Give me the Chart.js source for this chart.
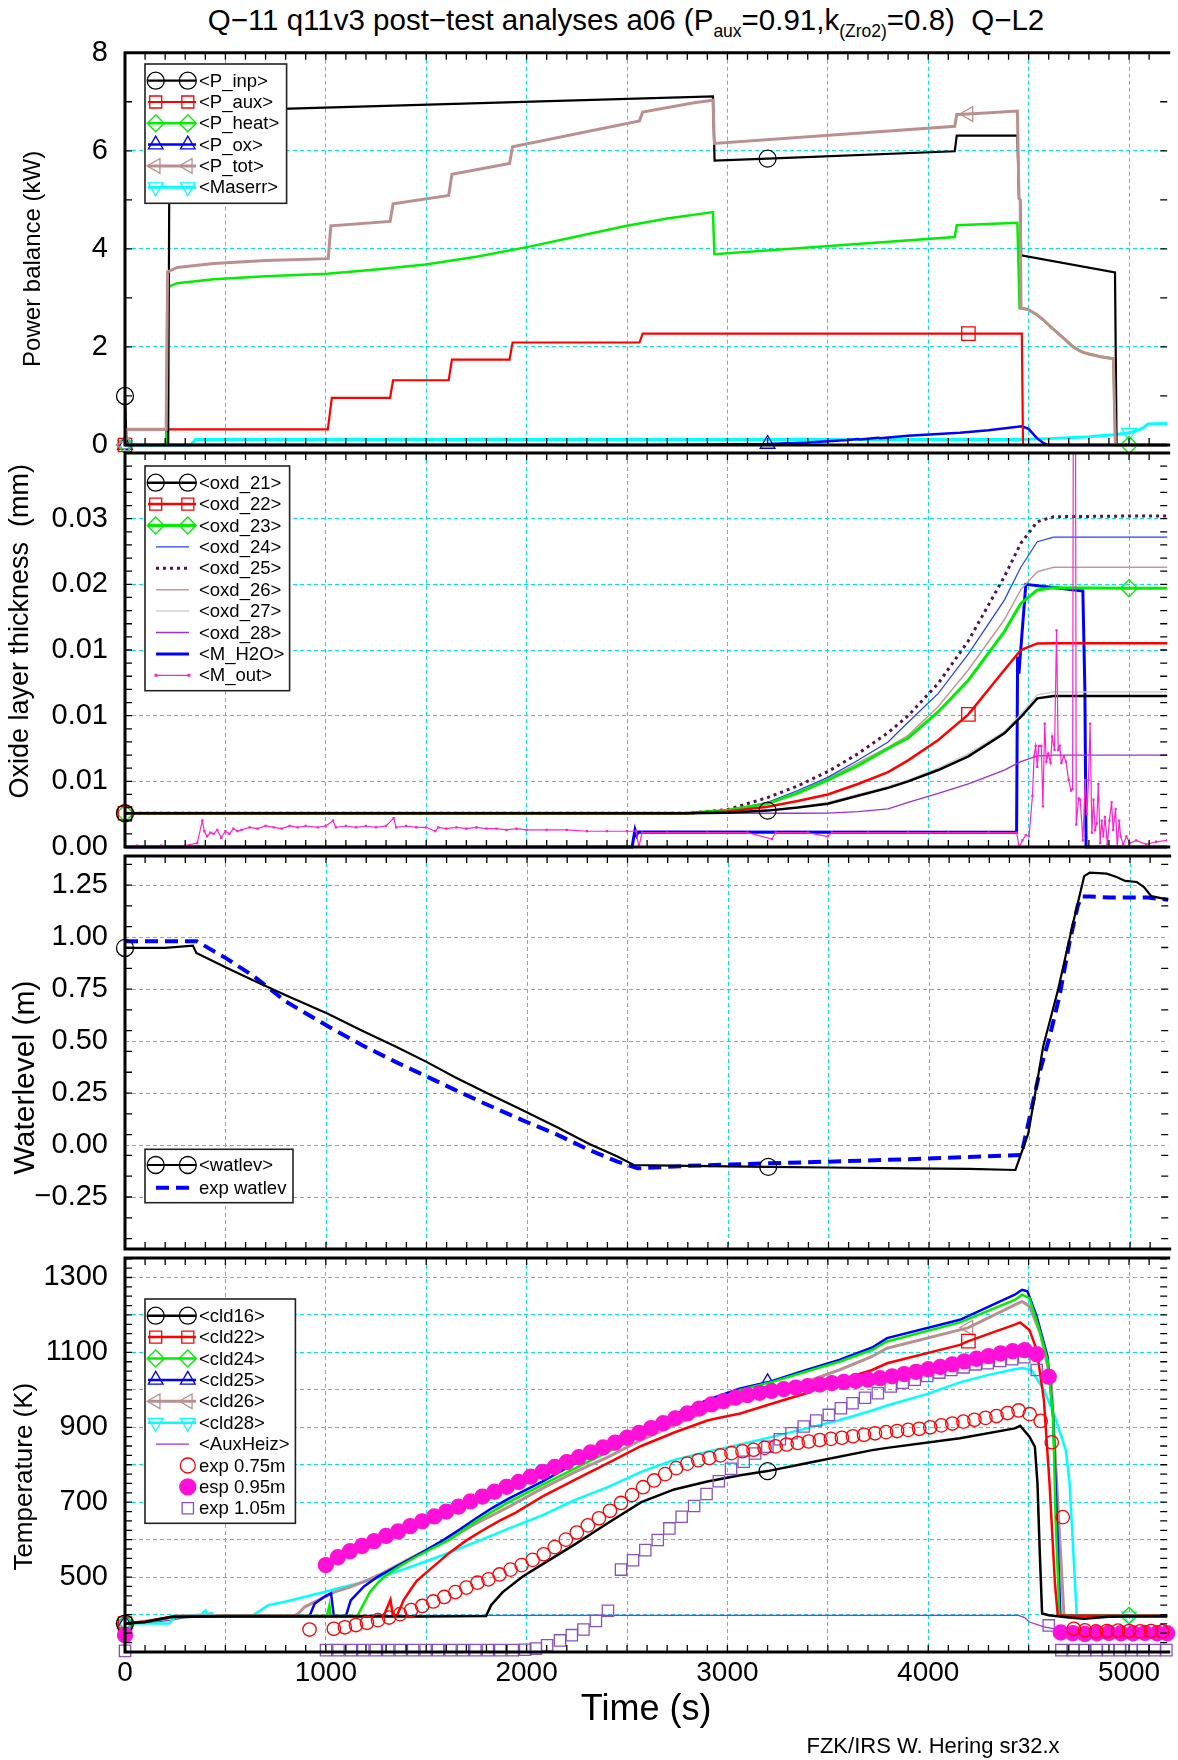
<!DOCTYPE html>
<html><head><meta charset="utf-8">
<script src="https://cdn.jsdelivr.net/npm/chart.js@4.4.1/dist/chart.umd.min.js"></script>
<style>
html,body{margin:0;padding:0;background:#fff;}
#wrap{position:relative;width:1178px;height:1760px;overflow:hidden;background:#fff;font-family:"Liberation Sans",Arial,Helvetica,sans-serif;color:#000;}
canvas{position:absolute;left:0;}
#title{position:absolute;top:3px;left:626px;transform:translateX(-50%);white-space:nowrap;font-size:29.5px;line-height:34px;}
#title sub{font-size:17.5px;line-height:0;vertical-align:-7px;}
#footer{position:absolute;top:1733px;left:933px;transform:translateX(-50%);white-space:nowrap;font-size:22px;line-height:26px;}
</style></head><body>
<div id="wrap">
<div id="title">Q−11 q11v3 post−test analyses a06 (P<sub>aux</sub>=0.91,k<sub>(Zro2)</sub>=0.8)&nbsp; Q−L2</div>
<canvas id="c1" width="1178" height="450" style="top:22px"></canvas>
<canvas id="c2" width="1178" height="434" style="top:433px"></canvas>
<canvas id="c3" width="1178" height="433" style="top:836px"></canvas>
<canvas id="c4" width="1178" height="522" style="top:1238px"></canvas>
<div id="footer">FZK/IRS W. Hering sr32.x</div>
</div>
<script>
// ---------------- DATA ----------------
// x axis
const X_TICKS = [0,500,1000,1500,2000,2500,3000,3500,4000,4500,5000];
const X_TICK_LABELS = ['0','','1000','','2000','','3000','','4000','','5000'];

// Panel 1: power balance (kW)  [time s, value]
const P_INP = [[0,1.0],[8,0],[215,0],[222,6.79],[2928,7.11],[2936,5.80],[3200,5.84],[4132,5.99],[4142,6.31],[4444,6.31],[4452,5.03],[4458,5.00],[4463,3.87],[4930,3.52],[4938,0],[5190,0]];
const P_AUX = [[0,0],[5,0.32],[1010,0.32],[1030,0.96],[1320,0.96],[1335,1.32],[1612,1.32],[1628,1.74],[1915,1.74],[1930,2.09],[2562,2.09],[2578,2.27],[4200,2.27],[4466,2.27],[4472,0],[5190,0]];
const P_HEAT = [[0,0],[205,0],[212,3.22],[260,3.30],[441,3.38],[700,3.44],[1007,3.49],[1250,3.58],[1497,3.68],[1750,3.84],[2008,4.04],[2250,4.25],[2499,4.47],[2700,4.62],[2928,4.75],[2935,3.89],[4132,4.24],[4142,4.48],[4444,4.53],[4455,2.79],[4494,2.77],[4540,2.66],[4576,2.54],[4610,2.41],[4648,2.27],[4690,2.12],[4722,2.00],[4760,1.91],[4794,1.86],[4860,1.80],[4922,1.76],[4932,0],[5000,0],[5190,0]];
const P_OX = [[0,0],[2600,0],[2900,0.01],[3200,0.02],[3400,0.05],[3600,0.10],[3650,0.12],[3660,0.11],[3750,0.15],[3760,0.14],[3900,0.19],[4158,0.25],[4300,0.30],[4466,0.38],[4500,0.33],[4541,0.14],[4570,0.05],[4595,0],[5190,0]];
const P_TOT = [[0,0],[5,0.32],[205,0.32],[212,3.53],[260,3.62],[441,3.70],[700,3.76],[1012,3.80],[1025,4.47],[1320,4.56],[1335,4.92],[1612,5.09],[1628,5.52],[1915,5.74],[1930,6.08],[2562,6.61],[2578,6.79],[2834,6.98],[2928,7.03],[2935,6.15],[4132,6.50],[4142,6.74],[4200,6.75],[4444,6.81],[4452,5.03],[4458,5.00],[4462,2.79],[4494,2.77],[4540,2.66],[4576,2.54],[4610,2.41],[4648,2.27],[4690,2.12],[4722,2.00],[4760,1.91],[4794,1.86],[4860,1.80],[4922,1.76],[4932,0],[5190,0]];
const MASERR = [[0,0],[330,0],[350,0.11],[4440,0.11],[4600,0.13],[4700,0.15],[4800,0.17],[4922,0.21],[4980,0.24],[5000,0.25],[5030,0.28],[5070,0.35],[5094,0.43],[5190,0.44]];

// Panel 2: oxide layer thickness (mm)
const T_OXD  = [0,2800,3000,3200,3350,3500,3650,3800,3900,4050,4200,4379,4461,4543,4625,5000,5190];
const OXD_21 = [.00257,.00257,.0026,.00277,.0030,.0033,.0039,.0045,.0050,.00586,.0069,.00866,.0099,.01132,.0115,.0115,.0115];
const OXD_22 = [.00257,.00257,.0027,.00307,.0035,.0040,.0048,.0057,.0066,.00815,.0101,.01348,.0150,.0155,.01551,.01551,.01551];
const OXD_23 = [.00257,.00257,.0028,.0033,.0041,.0051,.0062,.0075,.0083,.0103,.0127,.0164,.01855,.01957,.01974,.0197,.0197];
const OXD_24 = [.00257,.00257,.0028,.0034,.0043,.0053,.0066,.0080,.0095,.0117,.0147,.0188,.0213,.02325,.0236,.0236,.0236];
const OXD_25 = [.00257,.00257,.00285,.00376,.00465,.00574,.0071,.0087,.0100,.01246,.0157,.02058,.02312,.02477,.02515,.0252,.0252];
const OXD_26 = [.00257,.00257,.0028,.0033,.0042,.0052,.0064,.0076,.0085,.0107,.0135,.0173,.0196,.02096,.0213,.0213,.0213];
const OXD_27 = [.00257,.00257,.0026,.0028,.0030,.0034,.0040,.0046,.0051,.0060,.0071,.0088,.0101,.0116,.0118,.0118,.0118];
const OXD_28 = [.00257,.00257,.00257,.00257,.00257,.00258,.0027,.0029,.0034,.00409,.0048,.00586,.0065,.00693,.0070,.0070,.0070];
const M_H2O = [[0,0],[2525,0],[2540,0.0013],[2548,0.0009],[2555,0.00115],[4440,0.00112],[4445,0.0145],[4452,0.0132],[4458,0.0145],[4486,0.0200],[4770,0.0195],[4780,0.0120],[4786,0],[5190,0]];
const M_OUT = [[0,0],[60,0.0001],[120,0],[180,0.0001],[240,0],[300,0.0001],[360,0.0003],[385,0.0020],[395,0.0012],[409,0.0008],[425,0.0011],[441,0.0010],[460,0.0013],[479,0.0007],[500,0.0012],[520,0.0010],[540,0.0014],[560,0.0012],[580,0.0013],[620,0.0015],[660,0.0014],[700,0.0016],[740,0.0015],[780,0.0014],[820,0.0016],[860,0.0015],[900,0.0016],[960,0.0015],[1000,0.0016],[1036,0.0020],[1050,0.0015],[1100,0.0016],[1150,0.0015],[1200,0.0016],[1250,0.0015],[1300,0.0016],[1338,0.0022],[1350,0.0015],[1400,0.0016],[1450,0.0015],[1500,0.0015],[1545,0.0012],[1560,0.0015],[1600,0.0014],[1650,0.0015],[1700,0.0014],[1750,0.0015],[1800,0.0014],[1850,0.0014],[1900,0.0013],[1950,0.0014],[2000,0.0013],[2100,0.0013],[2200,0.0013],[2300,0.0012],[2400,0.0012],[2500,0.0012],[2545,0.0012],[2559,0],[2575,0.0011],[2700,0.0011],[2900,0.0011],[3100,0.0011],[3222,0.0006],[3240,0.0011],[3400,0.0011],[3499,0.0008],[3520,0.0011],[3700,0.0011],[3900,0.0011],[4100,0.0011],[4300,0.0011],[4440,0.0011],[4453,0],[4469,0.0005],[4486,0.0009],[4502,0.0008],[4519,0.0039],[4527,0.0069],[4535,0.0077],[4543,0.0061],[4551,0.0077],[4563,0.0077],[4571,0.0031],[4580,0.0094],[4588,0.0065],[4598,0.0071],[4609,0.0064],[4617,0.0084],[4629,0.0074],[4639,0.0165],[4647,0.0074],[4655,0.0077],[4663,0.0064],[4675,0.0069],[4686,0.0065],[4699,0.0051],[4711,0.0043],[4719,0.0044],[4724,0.045],[4732,0.045],[4737,0.0017],[4749,0.0037],[4757,0.0036],[4770,0.0005],[4782,0.0051],[4790,0.0025],[4798,0.0051],[4806,0.0094],[4815,0.0011],[4823,0.0036],[4831,0.0013],[4839,0.0018],[4847,0.0048],[4856,0.0003],[4864,0.0020],[4872,0.0008],[4880,0.0023],[4892,0.0002],[4902,0.0020],[4913,0.0034],[4921,0.0013],[4933,0.0029],[4941,0],[4951,0.0020],[4958,0.0008],[4971,0.0002],[4987,0.0008],[5004,0.0003],[5036,0.0005],[5086,0.0002],[5135,0.0004],[5190,0.0005]];

// Panel 3: water level (m)
const WATLEV = [[0,0.948],[200,0.948],[338,0.959],[355,0.924],[500,0.855],[642,0.79],[800,0.72],[1012,0.63],[1180,0.55],[1346,0.474],[1500,0.40],[1642,0.326],[1800,0.25],[1976,0.169],[2150,0.085],[2310,0.005],[2450,-0.055],[2531,-0.096],[2800,-0.100],[3200,-0.105],[3495,-0.108],[3900,-0.112],[4200,-0.115],[4430,-0.12],[4494,0.056],[4568,0.474],[4642,0.747],[4717,1.069],[4772,1.293],[4800,1.31],[4884,1.305],[4930,1.29],[4976,1.27],[5034,1.265],[5070,1.24],[5106,1.197],[5190,1.18]];
const EXP_WATLEV = [[0,0.98],[357,0.98],[500,0.90],[642,0.811],[800,0.69],[1012,0.57],[1180,0.48],[1346,0.40],[1500,0.33],[1642,0.265],[1800,0.195],[1976,0.12],[2150,0.05],[2310,-0.024],[2450,-0.08],[2550,-0.112],[2800,-0.10],[3199,-0.088],[3495,-0.08],[3900,-0.068],[4200,-0.058],[4459,-0.048],[4500,0.13],[4550,0.35],[4600,0.52],[4650,0.72],[4700,0.98],[4740,1.15],[4760,1.195],[4800,1.195],[4900,1.19],[5000,1.19],[5088,1.19],[5190,1.18]];

// Panel 4: temperatures (K)
const CLD16 = [[0,376],[100,380],[234,394],[500,395],[1000,395],[1500,395],[1798,396],[1823,425],[1881,460],[1979,501],[2078,534],[2242,588],[2407,645],[2571,700],[2735,734],[2900,755],[3064,772],[3200,783],[3393,804],[3721,839],[3795,845],[4158,871],[4431,897],[4458,904],[4504,875],[4531,848],[4544,750],[4555,572],[4567,403],[4600,398],[4700,392],[4776,389],[4900,394],[5000,395],[5190,395]];
const CLD22 = [[0,376],[100,382],[234,394],[500,396],[1000,396],[1289,397],[1322,440],[1334,398],[1355,398],[1387,438],[1420,465],[1453,490],[1535,528],[1618,566],[1700,598],[1782,625],[1864,650],[1946,672],[2078,715],[2242,760],[2407,805],[2571,850],[2735,886],[2900,918],[2949,924],[3064,937],[3228,964],[3393,991],[3557,1026],[3721,1053],[3795,1071],[4158,1120],[4200,1130],[4431,1174],[4458,1180],[4504,1160],[4540,1107],[4576,973],[4604,750],[4631,483],[4645,398],[4700,397],[5190,397]];
const CLD24 = [[0,376],[100,380],[234,393],[500,396],[1005,396],[1018,425],[1024,396],[1157,396],[1180,420],[1220,460],[1260,485],[1300,505],[1371,530],[1453,555],[1535,578],[1618,600],[1749,650],[1913,701],[2078,746],[2242,790],[2407,835],[2571,879],[2735,924],[2900,964],[3064,1000],[3228,1022],[3393,1049],[3557,1075],[3721,1107],[3795,1129],[4158,1180],[4431,1240],[4467,1254],[4504,1245],[4549,1169],[4594,1080],[4622,928],[4634,661],[4653,398],[4700,397],[5000,397],[5190,397]];
const CLD25 = [[0,376],[100,380],[234,393],[500,396],[919,396],[944,429],[985,445],[1026,457],[1040,396],[1100,396],[1124,438],[1190,475],[1256,500],[1340,525],[1420,548],[1500,572],[1585,599],[1670,628],[1749,657],[1830,685],[1913,710],[2078,755],[2242,804],[2407,853],[2571,897],[2735,933],[2900,973],[3064,1004],[3200,1020],[3393,1053],[3557,1080],[3721,1113],[3795,1138],[4158,1187],[4431,1254],[4467,1267],[4494,1263],[4540,1196],[4594,1089],[4622,928],[4640,661],[4658,398],[4700,397],[5190,397]];
const CLD26 = [[0,376],[100,380],[200,390],[253,397],[500,397],[845,397],[862,402],[894,420],[960,438],[1042,460],[1124,474],[1207,492],[1289,512],[1420,550],[1500,572],[1585,594],[1749,643],[1913,688],[2078,737],[2242,781],[2407,821],[2571,866],[2735,906],[2900,944],[3064,969],[3228,995],[3393,1022],[3557,1053],[3721,1089],[3795,1111],[4158,1160],[4200,1166],[4431,1227],[4467,1236],[4504,1223],[4558,1151],[4613,1018],[4640,750],[4676,398],[4700,397],[5190,397]];
const CLD28 = [[0,376],[220,376],[253,394],[380,400],[401,411],[410,398],[425,404],[434,403],[445,396],[631,396],[714,425],[796,434],[894,447],[993,460],[1092,474],[1190,487],[1289,503],[1371,518],[1453,533],[1585,559],[1749,594],[1913,630],[2078,665],[2242,706],[2407,741],[2571,781],[2735,813],[2900,835],[3064,854],[3228,875],[3393,897],[3557,919],[3721,945],[3795,958],[4000,990],[4158,1020],[4300,1040],[4431,1055],[4467,1058],[4513,1053],[4576,1000],[4631,928],[4685,839],[4704,750],[4722,572],[4740,394],[4800,396],[5000,396],[5190,396]];
const AUXHEIZ = [[0,376],[150,380],[230,385],[300,392],[467,396],[1000,397],[2000,398],[3000,398],[4000,398],[4450,398],[4480,392],[4504,380],[4576,367],[4631,362],[4700,358],[5190,356]];
const EXP_075 = [[919,360],[1040,362],[1095,366],[1150,372],[1205,378],[1260,385],[1315,392],[1370,401],[1425,412],[1480,423],[1535,435],[1590,447],[1645,460],[1700,472],[1755,485],[1810,494],[1865,507],[1920,520],[1975,532],[2030,546],[2085,561],[2140,580],[2195,600],[2250,619],[2305,638],[2360,657],[2415,677],[2470,698],[2525,719],[2580,740],[2635,758],[2690,775],[2745,791],[2800,803],[2855,812],[2910,818],[2965,825],[3020,831],[3075,836],[3130,840],[3185,845],[3240,849],[3295,854],[3350,858],[3405,862],[3460,866],[3515,869],[3570,872],[3625,876],[3680,880],[3735,884],[3790,887],[3845,890],[3900,893],[3955,896],[4010,900],[4065,905],[4120,910],[4175,915],[4230,920],[4285,925],[4340,930],[4395,938],[4450,945],[4505,935],[4560,917],[4615,860],[4670,660],[4725,362],[4780,358],[4835,355],[4890,356],[4945,357],[5000,356],[5055,355],[5110,356],[5165,355]];
const ESP_095 = [[0,345],[1000,532],[1060,553],[1120,569],[1180,583],[1240,596],[1300,610],[1360,622],[1420,636],[1480,649],[1540,662],[1600,675],[1660,688],[1720,702],[1780,715],[1840,728],[1900,741],[1960,754],[2020,768],[2080,781],[2140,794],[2200,807],[2260,820],[2320,833],[2380,846],[2440,859],[2500,872],[2560,885],[2620,898],[2680,911],[2740,924],[2800,937],[2860,950],[2920,961],[2980,970],[3040,979],[3100,986],[3160,992],[3220,997],[3280,1002],[3340,1006],[3400,1010],[3460,1014],[3520,1018],[3580,1021],[3640,1024],[3700,1027],[3760,1031],[3820,1036],[3880,1042],[3940,1048],[4000,1055],[4060,1061],[4120,1068],[4180,1076],[4240,1083],[4300,1090],[4360,1097],[4420,1103],[4480,1106],[4540,1095],[4600,1035],[4660,352],[4720,350],[4780,348],[4840,350],[4900,351],[4960,350],[5020,350],[5080,351],[5140,350],[5190,350]];
const EXP_105 = [[0,303],[1001,305],[1063,305],[1125,305],[1187,305],[1249,305],[1311,305],[1373,305],[1435,305],[1497,305],[1559,305],[1621,305],[1683,305],[1745,305],[1807,305],[1869,305],[1931,305],[1993,306],[2046,309],[2102,318],[2166,331],[2225,345],[2283,360],[2345,383],[2405,410],[2470,520],[2530,545],[2591,572],[2653,599],[2711,630],[2772,661],[2834,690],[2896,722],[2957,756],[3018,789],[3081,808],[3138,830],[3199,848],[3261,868],[3319,884],[3380,902],[3442,918],[3505,933],[3565,951],[3623,964],[3685,979],[3749,991],[3813,1009],[3873,1019],[3933,1027],[3995,1037],[4055,1046],[4115,1053],[4176,1060],[4236,1068],[4296,1071],[4358,1077],[4418,1082],[4478,1087],[4540,1053],[4600,371],[4663,305],[4722,305],[4780,305],[4838,305],[4896,305],[4954,305],[5012,305],[5070,305],[5128,305],[5186,305]];

// y axis ticks / labels
const Y1_TICKS = [0,2,4,6,8];                  const Y1_LABELS = ['0','2','4','6','8'];
const Y2_TICKS = [0,0.005,0.01,0.015,0.02,0.025]; const Y2_LABELS = ['0.00','0.01','0.01','0.01','0.02','0.03'];
const Y3_TICKS = [-0.25,0,0.25,0.5,0.75,1,1.25];  const Y3_LABELS = ['\u22120.25','0.00','0.25','0.50','0.75','1.00','1.25'];
const Y4_TICKS = [400,500,600,700,800,900,1000,1100,1200,1300];
const Y4_LABELS = ['','500','','700','','900','','1100','','1300'];

// ---------------- RENDERING ----------------
const FONT = '"Liberation Sans", Arial, Helvetica, sans-serif';
Chart.defaults.font.family = FONT;
Chart.defaults.color = '#000';
const GRID = '#00e3ec';
const X_MAX = 5190;

const pts = a => a.map(p => ({ x: p[0], y: p[1] }));
const zip = (t, v) => t.map((x, i) => ({ x: x, y: v[i] }));

function sim(label, data, color, width, style, rot, marks, extra) {
  const r = style === 'rect' ? 9.5 : 8.5;
  return Object.assign({
    label: label, data: data, showLine: true, borderColor: color, borderWidth: width,
    backgroundColor: 'rgba(0,0,0,0)', pointStyle: style || 'circle', pointRotation: rot || 0,
    pointBorderColor: color, pointBackgroundColor: 'rgba(0,0,0,0)', pointBorderWidth: 1.3,
    pointRadius: c => (c.raw && marks && marks.includes(c.raw.x)) ? r : 0,
    pointHoverRadius: 0, pointHitRadius: 0, tension: 0, clip: false, order: 2
  }, extra || {});
}
function expPts(label, data, color, style, r, fill) {
  return {
    label: label, data: data, showLine: false, borderColor: color, backgroundColor: fill,
    pointStyle: style, pointRadius: r, pointBorderColor: color, pointBackgroundColor: fill,
    pointBorderWidth: 1.3, pointHoverRadius: 0, pointHitRadius: 0, clip: false, order: 0
  };
}

function mark(ctx, style, x, y, r, rot) {
  ctx.beginPath();
  if (style === 'circle') ctx.arc(x, y, r, 0, Math.PI * 2);
  else if (style === 'rect') { const s = r * Math.SQRT1_2; ctx.rect(x - s, y - s, 2 * s, 2 * s); }
  else if (style === 'rectRot') { ctx.moveTo(x, y - r); ctx.lineTo(x + r, y); ctx.lineTo(x, y + r); ctx.lineTo(x - r, y); ctx.closePath(); }
  else if (style === 'triangle') {
    let a = (rot || 0) * Math.PI / 180;
    for (let k = 0; k < 3; k++) { const px = x + Math.sin(a) * r, py = y - Math.cos(a) * r; if (k) ctx.lineTo(px, py); else ctx.moveTo(px, py); a += 2 * Math.PI / 3; }
    ctx.closePath();
  }
}
function drawMk(ctx, ds, x, y, r) {
  ctx.save(); ctx.setLineDash([]);
  ctx.lineWidth = ds.pointBorderWidth || 1.3; ctx.strokeStyle = ds.pointBorderColor; ctx.fillStyle = ds.pointBackgroundColor;
  mark(ctx, ds.pointStyle, x, y, r, ds.pointRotation); ctx.fill(); ctx.stroke(); ctx.restore();
}

const framePlugin = {
  id: 'frame',
  afterDraw(chart, args, o) {
    const { ctx, chartArea: a, scales } = chart;
    const xs = scales.x, ys = scales.y;
    ctx.save();
    ctx.strokeStyle = '#000'; ctx.lineWidth = 1.3; ctx.setLineDash([]);
    ctx.beginPath();
    for (let k = 0; k * 100 <= X_MAX; k++) {
      const px = xs.getPixelForValue(k * 100);
      ctx.moveTo(px, a.bottom); ctx.lineTo(px, a.bottom - 7);
      ctx.moveTo(px, a.top); ctx.lineTo(px, a.top + 7);
    }
    for (let k = 0; ; k++) {
      const v = o.minorStart + k * o.minorStep;
      if (v > ys.max + 1e-9) break;
      const py = ys.getPixelForValue(v);
      ctx.moveTo(a.left, py); ctx.lineTo(a.left + 7, py);
      ctx.moveTo(a.right, py); ctx.lineTo(a.right - 7, py);
    }
    ctx.stroke();
    ctx.lineWidth = 3;
    ctx.beginPath();
    ctx.moveTo(a.right + 3, a.top); ctx.lineTo(a.left, a.top); ctx.lineTo(a.left, a.bottom); ctx.lineTo(a.right + 3, a.bottom);
    ctx.stroke();
    // legend
    const L = o.legend;
    const bx = a.left + L.dx, by = a.top + L.dy;
    ctx.fillStyle = '#fff'; ctx.fillRect(bx, by, L.w, L.h);
    ctx.lineWidth = 1.6; ctx.strokeStyle = '#222'; ctx.strokeRect(bx, by, L.w, L.h);
    ctx.font = '18.5px ' + FONT; ctx.textBaseline = 'middle'; ctx.textAlign = 'left';
    L.items.forEach((it, k) => {
      const ds = chart.data.datasets[it[0]];
      const kind = it[1];
      const y = by + L.row0 + k * L.rowH;
      if (kind !== 'mk') {
        ctx.save(); ctx.strokeStyle = ds.borderColor; ctx.lineWidth = Math.max(ds.borderWidth, 1.2); ctx.setLineDash(ds.borderDash || []);
        ctx.beginPath();
        if (kind === 'lm') { ctx.moveTo(bx + 3, y); ctx.lineTo(bx + 51, y); } else { ctx.moveTo(bx + 11, y); ctx.lineTo(bx + 44, y); }
        ctx.stroke(); ctx.restore();
      }
      if (kind === 'lm') { drawMk(ctx, ds, bx + 10.7, y, 8.5); drawMk(ctx, ds, bx + 42.8, y, 8.5); }
      if (kind === 'dots') { ctx.fillStyle = ds.borderColor; ctx.fillRect(bx + 9.5, y - 1.5, 3, 3); ctx.fillRect(bx + 42.5, y - 1.5, 3, 3); }
      if (kind === 'mk') drawMk(ctx, ds, bx + 42.8, y, it[2]);
      ctx.fillStyle = '#000'; ctx.fillText(ds.label, bx + 54, y + 1);
    });
    ctx.restore();
  }
};

function makeChart(id, p) {
  const xScale = {
    type: 'linear', min: 0, max: X_MAX,
    afterBuildTicks: s => { s.ticks = X_TICKS.map(v => ({ value: v })); },
    grid: { color: GRID, lineWidth: 1, drawTicks: false },
    border: { display: false, dash: [4, 3] }
  };
  if (p.bottom) {
    xScale.afterFit = s => { s.height = 80; };
    xScale.ticks = { autoSkip: false, maxRotation: 0, padding: 4, font: { size: 28 }, color: '#000', callback: (v, i) => X_TICK_LABELS[i] };
    xScale.title = { display: true, text: 'Time (s)', font: { size: 36 }, color: '#000', padding: { top: 0, bottom: 0 } };
  } else {
    xScale.afterFit = s => { s.height = 0; };
    xScale.ticks = { display: false };
  }
  return new Chart(document.getElementById(id), {
    type: 'scatter',
    data: { datasets: p.datasets },
    plugins: [framePlugin],
    options: {
      responsive: false, animation: false, devicePixelRatio: 1, events: [],
      layout: { padding: { top: p.padTop, bottom: p.padBottom, left: 0, right: 0 } },
      plugins: { legend: { display: false }, tooltip: { enabled: false },
        frame: { minorStart: p.minorStart, minorStep: p.minorStep, legend: p.legend } },
      scales: {
        x: xScale,
        y: {
          type: 'linear', min: p.ymin, max: p.ymax,
          afterBuildTicks: s => { s.ticks = p.yTicks.map(v => ({ value: v })); },
          afterFit: s => { s.width = 125; },
          ticks: { autoSkip: false, padding: 0, font: { size: 29 }, color: '#000', callback: (v, i) => p.yLabels[i] },
          grid: { color: GRID, lineWidth: 1, drawTicks: true, tickLength: 17, tickColor: 'rgba(0,0,0,0)' },
          border: { display: false, dash: [4, 3] },
          title: { display: true, text: p.yTitle, color: '#000', font: { size: p.yTitleSize, weight: 'normal' }, padding: { top: p.yTitlePad, bottom: 0 } }
        }
      }
    }
  });
}

// Panel 1
makeChart('c1', {
  padTop: 30.7, padBottom: 27, ymin: 0, ymax: 8, yTicks: Y1_TICKS, yLabels: Y1_LABELS,
  yTitle: 'Power balance (kW)   ', yTitleSize: 24, yTitlePad: 18.6, minorStart: 0, minorStep: 1,
  datasets: [
    sim('<P_inp>', pts(P_INP), '#000000', 2.2, 'circle', 0, [0, 3200]),
    sim('<P_aux>', pts(P_AUX), '#ff0000', 2.2, 'rect', 0, [0, 4200]),
    sim('<P_heat>', pts(P_HEAT), '#00ee00', 2.5, 'rectRot', 0, [0, 5000]),
    sim('<P_ox>', pts(P_OX), '#0000ff', 2.5, 'triangle', 0, [0, 3200]),
    sim('<P_tot>', pts(P_TOT), '#bc8f8f', 3, 'triangle', -90, [0, 4200], { order: 1 }),
    sim('<Maserr>', pts(MASERR), '#00ffff', 3, 'triangle', 180, [0, 5000])
  ],
  legend: { dx: 20, dy: 11.3, w: 141.6, h: 139.3, row0: 16.7, rowH: 21.3,
    items: [[0, 'lm'], [1, 'lm'], [2, 'lm'], [3, 'lm'], [4, 'lm'], [5, 'lm']] }
});

// Panel 2
makeChart('c2', {
  padTop: 20, padBottom: 20, ymin: 0, ymax: 0.03, yTicks: Y2_TICKS, yLabels: Y2_LABELS,
  yTitle: '     Oxide layer thickness  (mm)', yTitleSize: 27, yTitlePad: 4.5, minorStart: 0, minorStep: 0.001,
  datasets: [
    sim('<oxd_21>', zip(T_OXD, OXD_21), '#000000', 2.5, 'circle', 0, [0, 3200]),
    sim('<oxd_22>', zip(T_OXD, OXD_22), '#ff0000', 2.5, 'rect', 0, [0, 4200]),
    sim('<oxd_23>', zip(T_OXD, OXD_23), '#00ee00', 3, 'rectRot', 0, [0, 5000]),
    sim('<oxd_24>', zip(T_OXD, OXD_24), '#2040ff', 1.2, 'circle', 0, []),
    sim('<oxd_25>', zip(T_OXD, OXD_25), '#5a1048', 3, 'circle', 0, [], { borderDash: [3, 4] }),
    sim('<oxd_26>', zip(T_OXD, OXD_26), '#c29a96', 1.5, 'circle', 0, []),
    sim('<oxd_27>', zip(T_OXD, OXD_27), '#d0d0d0', 1.5, 'circle', 0, []),
    sim('<oxd_28>', zip(T_OXD, OXD_28), '#9a30d8', 1.3, 'circle', 0, []),
    sim('<M_H2O>', pts(M_H2O), '#0000ff', 3, 'circle', 0, [], { order: 3 }),
    sim('<M_out>', pts(M_OUT), '#ff22cc', 1.2, 'rect', 0, [], { pointRadius: 1.6, pointBackgroundColor: '#ff22cc', pointBorderWidth: 0, clip: 0, order: 1 })
  ],
  legend: { dx: 20, dy: 13, w: 144.6, h: 224.7, row0: 16.7, rowH: 21.4,
    items: [[0, 'lm'], [1, 'lm'], [2, 'lm'], [3, 'line'], [4, 'line'], [5, 'line'], [6, 'line'], [7, 'line'], [8, 'line'], [9, 'dots']] }
});

// Panel 3
makeChart('c3', {
  padTop: 20, padBottom: 20, ymin: -0.5, ymax: 1.39, yTicks: Y3_TICKS, yLabels: Y3_LABELS,
  yTitle: 'Waterlevel (m)      ', yTitleSize: 30, yTitlePad: 8, minorStart: -0.45, minorStep: 0.1,
  datasets: [
    sim('<watlev>', pts(WATLEV), '#000000', 2.2, 'circle', 0, [0, 3200]),
    sim('exp watlev', pts(EXP_WATLEV), '#0000ff', 4, 'circle', 0, [], { borderDash: [13, 7] })
  ],
  legend: { dx: 20, dy: 293.3, w: 148, h: 53.4, row0: 15.7, rowH: 22.7,
    items: [[0, 'lm'], [1, 'line']] }
});

// Panel 4
makeChart('c4', {
  bottom: true, padTop: 20, padBottom: 28, ymin: 300, ymax: 1352, yTicks: Y4_TICKS, yLabels: Y4_LABELS,
  yTitle: 'Temperature (K)      ', yTitleSize: 26, yTitlePad: 9.4, minorStart: 300, minorStep: 25,
  datasets: [
    sim('<cld16>', pts(CLD16), '#000000', 2.5, 'circle', 0, [0, 3200]),
    sim('<cld22>', pts(CLD22), '#ff0000', 2.5, 'rect', 0, [0, 4200]),
    sim('<cld24>', pts(CLD24), '#00ee00', 2.5, 'rectRot', 0, [0, 5000]),
    sim('<cld25>', pts(CLD25), '#0000ff', 2.5, 'triangle', 0, [0, 3200]),
    sim('<cld26>', pts(CLD26), '#b89090', 3, 'triangle', -90, [0, 4200]),
    sim('<cld28>', pts(CLD28), '#00ffff', 2.5, 'triangle', 180, [0, 5000]),
    sim('<AuxHeiz>', pts(AUXHEIZ), '#9a30e0', 1.3, 'circle', 0, []),
    expPts('exp 0.75m', pts(EXP_075), '#ff0000', 'circle', 6.7, 'rgba(0,0,0,0)'),
    expPts('esp 0.95m', pts(ESP_095), '#ff10d8', 'circle', 7.5, '#ff10d8'),
    expPts('exp 1.05m', pts(EXP_105), '#8850c8', 'rect', 8, 'rgba(0,0,0,0)')
  ],
  legend: { dx: 20, dy: 41, w: 150.4, h: 224.3, row0: 16.7, rowH: 21.4,
    items: [[0, 'lm'], [1, 'lm'], [2, 'lm'], [3, 'lm'], [4, 'lm'], [5, 'lm'], [6, 'line'], [7, 'mk', 7.5], [8, 'mk', 8], [9, 'mk', 8]] }
});
</script>
</body></html>
